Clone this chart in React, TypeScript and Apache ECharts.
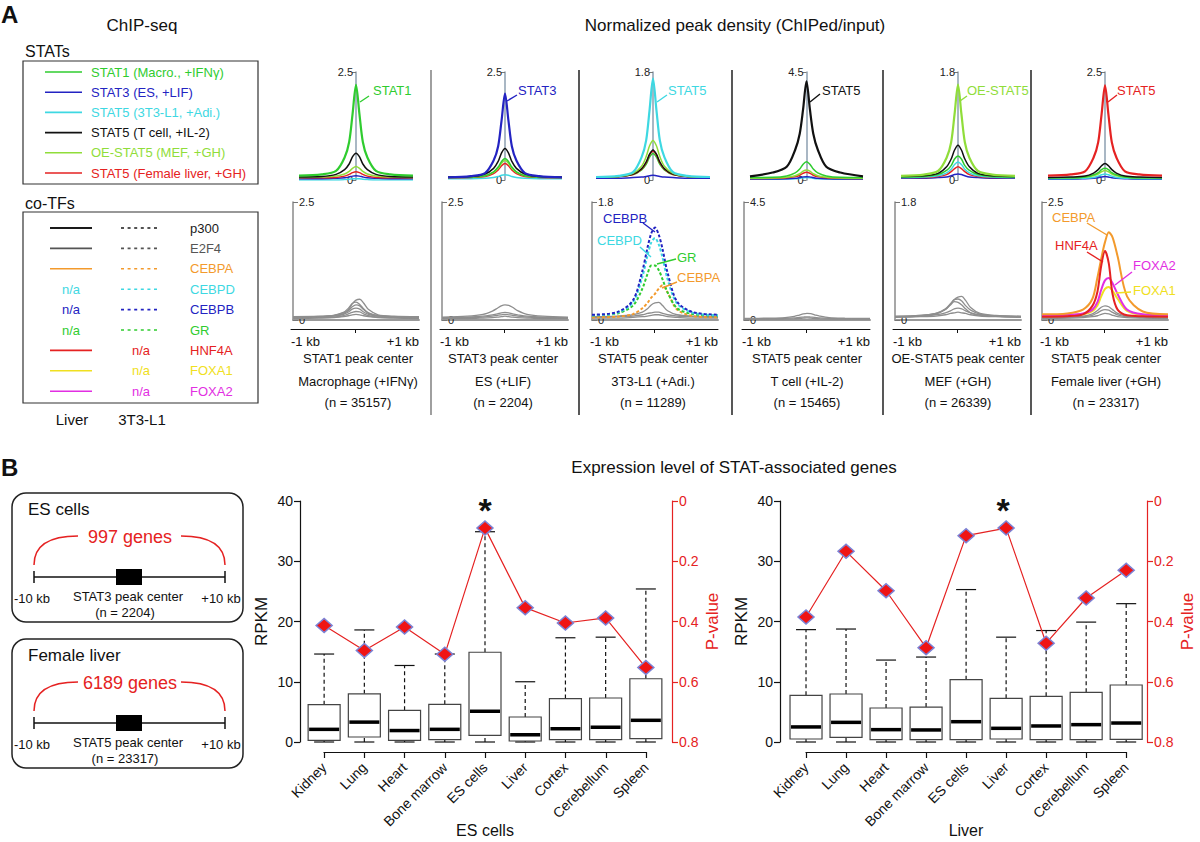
import React, { useEffect, useRef } from "react";
import * as echarts from "echarts";

const FONT = "'Liberation Sans', Arial, Helvetica, sans-serif";

// ---------- Panel A : peak density profiles (x in kb) ----------
const X_KB = [-1, -0.6, -0.35, -0.2, -0.12, -0.06, 0, 0.06, 0.12, 0.2, 0.35, 0.6, 1];
const TOP_MAX = [2.5, 2.5, 1.8, 4.5, 1.8, 2.5];
const BOT_MAX = [2.5, 2.5, 1.8, 4.5, 1.8, 2.5];

// panel 1 : STAT1 peak center, macrophage
const p1Stat1 = [0.1, 0.13, 0.21, 0.52, 0.88, 1.53, 2.2, 1.53, 0.88, 0.52, 0.21, 0.13, 0.1];
const p1Stat5T = [0.07, 0.08, 0.13, 0.24, 0.37, 0.54, 0.62, 0.54, 0.37, 0.24, 0.13, 0.08, 0.07];
const p1OeStat5 = [0.06, 0.07, 0.09, 0.14, 0.2, 0.27, 0.31, 0.27, 0.2, 0.14, 0.09, 0.07, 0.06];
const p1Stat5L = [0.05, 0.05, 0.06, 0.09, 0.13, 0.17, 0.19, 0.17, 0.13, 0.09, 0.06, 0.05, 0.05];
const p1Stat3 = [0.03, 0.03, 0.04, 0.05, 0.07, 0.09, 0.1, 0.09, 0.07, 0.05, 0.04, 0.03, 0.03];
const p1Stat5A = [0, 0, 0, 0.01, 0.02, 0.03, 0.03, 0.03, 0.02, 0.01, 0, 0, 0];
// panel 2 : STAT3 peak center, ES
const p2Stat3 = [0.06, 0.09, 0.16, 0.45, 0.78, 1.38, 2.0, 1.38, 0.78, 0.45, 0.16, 0.09, 0.06];
const p2Stat5T = [0.07, 0.08, 0.14, 0.27, 0.43, 0.63, 0.73, 0.63, 0.43, 0.27, 0.14, 0.08, 0.07];
const p2Stat1 = [0.06, 0.07, 0.1, 0.19, 0.3, 0.43, 0.5, 0.43, 0.3, 0.19, 0.1, 0.07, 0.06];
const p2OeStat5 = [0.06, 0.07, 0.1, 0.18, 0.27, 0.39, 0.45, 0.39, 0.27, 0.18, 0.1, 0.07, 0.06];
const p2Stat5L = [0.05, 0.06, 0.08, 0.15, 0.23, 0.33, 0.38, 0.33, 0.23, 0.15, 0.08, 0.06, 0.05];
const p2Stat5A = [0.03, 0.03, 0.04, 0.06, 0.08, 0.11, 0.12, 0.11, 0.08, 0.06, 0.04, 0.03, 0.03];
// panel 3 : STAT5 peak center, 3T3-L1
const p3Stat5A = [0.05, 0.07, 0.13, 0.38, 0.66, 1.17, 1.69, 1.17, 0.66, 0.38, 0.13, 0.07, 0.05];
const p3OeStat5 = [0.05, 0.06, 0.11, 0.23, 0.39, 0.57, 0.66, 0.57, 0.39, 0.23, 0.11, 0.06, 0.05];
const p3Stat5T = [0.05, 0.06, 0.1, 0.19, 0.3, 0.43, 0.5, 0.43, 0.3, 0.19, 0.1, 0.06, 0.05];
const p3Stat5L = [0.05, 0.06, 0.09, 0.18, 0.29, 0.42, 0.48, 0.42, 0.29, 0.18, 0.09, 0.06, 0.05];
const p3Stat1 = [0.05, 0.06, 0.09, 0.17, 0.26, 0.38, 0.44, 0.38, 0.26, 0.17, 0.09, 0.06, 0.05];
const p3Stat3 = [0.03, 0.03, 0.04, 0.05, 0.06, 0.07, 0.08, 0.07, 0.06, 0.05, 0.04, 0.03, 0.03];
// panel 4 : STAT5 peak center, T cell
const p4Stat5T = [0.15, 0.31, 0.55, 1.26, 1.93, 2.95, 4.11, 2.95, 1.93, 1.26, 0.55, 0.31, 0.15];
const p4Stat1 = [0.1, 0.11, 0.17, 0.3, 0.46, 0.66, 0.76, 0.66, 0.46, 0.3, 0.17, 0.11, 0.1];
const p4OeStat5 = [0.07, 0.08, 0.11, 0.18, 0.26, 0.37, 0.42, 0.37, 0.26, 0.18, 0.11, 0.08, 0.07];
const p4Stat5L = [0.06, 0.07, 0.09, 0.14, 0.2, 0.28, 0.32, 0.28, 0.2, 0.14, 0.09, 0.07, 0.06];
const p4Stat3 = [0.04, 0.04, 0.05, 0.07, 0.1, 0.13, 0.14, 0.13, 0.1, 0.07, 0.05, 0.04, 0.04];
const p4Stat5A = [0.03, 0.03, 0.04, 0.05, 0.07, 0.09, 0.1, 0.09, 0.07, 0.05, 0.04, 0.03, 0.03];
// panel 5 : OE-STAT5 peak center, MEF
const p5OeStat5 = [0.07, 0.09, 0.15, 0.37, 0.63, 1.1, 1.59, 1.1, 0.63, 0.37, 0.15, 0.09, 0.07];
const p5Stat5T = [0.06, 0.07, 0.11, 0.22, 0.35, 0.5, 0.58, 0.5, 0.35, 0.22, 0.11, 0.07, 0.06];
const p5Stat1 = [0.05, 0.06, 0.09, 0.16, 0.24, 0.35, 0.4, 0.35, 0.24, 0.16, 0.09, 0.06, 0.05];
const p5Stat5A = [0.04, 0.05, 0.07, 0.12, 0.18, 0.26, 0.3, 0.26, 0.18, 0.12, 0.07, 0.05, 0.04];
const p5Stat5L = [0.04, 0.04, 0.06, 0.09, 0.14, 0.19, 0.22, 0.19, 0.14, 0.09, 0.06, 0.04, 0.04];
const p5Stat3 = [0.03, 0.03, 0.04, 0.05, 0.07, 0.09, 0.1, 0.09, 0.07, 0.05, 0.04, 0.03, 0.03];
// panel 6 : STAT5 peak center, female liver
const p6Stat5L = [0.1, 0.13, 0.2, 0.52, 0.87, 1.52, 2.19, 1.52, 0.87, 0.52, 0.2, 0.13, 0.1];
const p6Stat5T = [0.06, 0.07, 0.09, 0.16, 0.24, 0.33, 0.38, 0.33, 0.24, 0.16, 0.09, 0.07, 0.06];
const p6Stat1 = [0.05, 0.05, 0.07, 0.12, 0.17, 0.24, 0.27, 0.24, 0.17, 0.12, 0.07, 0.05, 0.05];
const p6OeStat5 = [0.05, 0.05, 0.07, 0.1, 0.14, 0.19, 0.22, 0.19, 0.14, 0.1, 0.07, 0.05, 0.05];
const p6Stat5A = [0.03, 0.03, 0.04, 0.06, 0.09, 0.12, 0.14, 0.12, 0.09, 0.06, 0.04, 0.03, 0.03];
const p6Stat3 = [0.02, 0.02, 0.03, 0.04, 0.05, 0.07, 0.08, 0.07, 0.05, 0.04, 0.03, 0.02, 0.02];

// co-TF profiles (bottom row)
const b1g1 = [0.07, 0.08, 0.1, 0.15, 0.22, 0.34, 0.42, 0.44, 0.36, 0.22, 0.11, 0.08, 0.07];
const b1g2 = [0.06, 0.07, 0.1, 0.16, 0.25, 0.35, 0.38, 0.33, 0.24, 0.15, 0.09, 0.07, 0.06];
const b1g3 = [0.06, 0.07, 0.09, 0.13, 0.2, 0.28, 0.32, 0.3, 0.22, 0.14, 0.09, 0.07, 0.06];
const b1g4 = [0.05, 0.06, 0.08, 0.12, 0.17, 0.23, 0.25, 0.23, 0.17, 0.12, 0.08, 0.06, 0.05];
const b1g5 = [0.04, 0.05, 0.06, 0.09, 0.13, 0.16, 0.18, 0.17, 0.13, 0.09, 0.06, 0.05, 0.04];
const b1g6 = [0.03, 0.04, 0.05, 0.07, 0.09, 0.11, 0.12, 0.11, 0.09, 0.07, 0.05, 0.04, 0.03];
const b2g1 = [0.06, 0.08, 0.12, 0.19, 0.25, 0.3, 0.32, 0.31, 0.27, 0.2, 0.12, 0.08, 0.06];
const b2g2 = [0.05, 0.06, 0.08, 0.11, 0.13, 0.15, 0.16, 0.15, 0.13, 0.11, 0.08, 0.06, 0.05];
const b2g3 = [0.04, 0.05, 0.06, 0.08, 0.1, 0.11, 0.12, 0.11, 0.1, 0.08, 0.06, 0.05, 0.04];
const b2g4 = [0.03, 0.03, 0.04, 0.05, 0.06, 0.07, 0.08, 0.07, 0.06, 0.05, 0.04, 0.03, 0.03];
const b3Cebpb = [0.08, 0.12, 0.3, 0.75, 1.1, 1.32, 1.41, 1.3, 1.08, 0.72, 0.28, 0.12, 0.08];
const b3Cebpd = [0.07, 0.11, 0.27, 0.66, 0.98, 1.18, 1.25, 1.15, 0.95, 0.62, 0.25, 0.11, 0.07];
const b3Gr = [0.07, 0.1, 0.22, 0.48, 0.7, 0.83, 0.83, 0.76, 0.62, 0.42, 0.18, 0.09, 0.07];
const b3Cebpa = [0.04, 0.05, 0.09, 0.18, 0.26, 0.34, 0.4, 0.48, 0.53, 0.42, 0.16, 0.06, 0.04];
const b3g1 = [0.05, 0.06, 0.08, 0.12, 0.17, 0.23, 0.26, 0.27, 0.22, 0.14, 0.08, 0.06, 0.05];
const b3g2 = [0.04, 0.05, 0.06, 0.08, 0.1, 0.11, 0.12, 0.12, 0.1, 0.08, 0.06, 0.05, 0.04];
const b3g3 = [0.03, 0.03, 0.04, 0.05, 0.06, 0.07, 0.08, 0.08, 0.07, 0.05, 0.04, 0.03, 0.03];
const b4g1 = [0.06, 0.07, 0.09, 0.14, 0.19, 0.23, 0.25, 0.24, 0.2, 0.15, 0.09, 0.07, 0.06];
const b4g2 = [0.04, 0.05, 0.06, 0.08, 0.1, 0.11, 0.12, 0.11, 0.1, 0.08, 0.06, 0.05, 0.04];
const b4g3 = [0.03, 0.03, 0.04, 0.05, 0.06, 0.07, 0.08, 0.07, 0.06, 0.05, 0.04, 0.03, 0.03];
const b5g1 = [0.06, 0.07, 0.1, 0.16, 0.24, 0.31, 0.35, 0.36, 0.3, 0.19, 0.1, 0.07, 0.06];
const b5g2 = [0.05, 0.07, 0.1, 0.17, 0.25, 0.31, 0.32, 0.29, 0.22, 0.15, 0.09, 0.06, 0.05];
const b5g3 = [0.05, 0.06, 0.09, 0.16, 0.23, 0.28, 0.27, 0.23, 0.17, 0.11, 0.07, 0.06, 0.05];
const b5g4 = [0.05, 0.06, 0.08, 0.11, 0.14, 0.17, 0.18, 0.17, 0.14, 0.11, 0.08, 0.06, 0.05];
const b5g5 = [0.04, 0.05, 0.06, 0.08, 0.1, 0.11, 0.12, 0.11, 0.1, 0.08, 0.06, 0.05, 0.04];
const b6Cebpa = [0.12, 0.14, 0.22, 0.45, 0.9, 1.3, 1.65, 1.86, 1.75, 1.35, 0.5, 0.18, 0.12];
const b6Hnf4a = [0.07, 0.08, 0.12, 0.3, 0.6, 1.15, 1.46, 1.2, 0.55, 0.22, 0.1, 0.08, 0.07];
const b6Foxa2 = [0.1, 0.11, 0.14, 0.22, 0.38, 0.64, 0.84, 0.89, 0.78, 0.55, 0.22, 0.12, 0.1];
const b6Foxa1 = [0.08, 0.09, 0.12, 0.19, 0.31, 0.5, 0.66, 0.7, 0.62, 0.45, 0.19, 0.1, 0.08];
const b6g1 = [0.05, 0.06, 0.08, 0.13, 0.2, 0.27, 0.3, 0.28, 0.22, 0.14, 0.08, 0.06, 0.05];
const b6g2 = [0.04, 0.05, 0.07, 0.1, 0.15, 0.2, 0.22, 0.21, 0.16, 0.11, 0.07, 0.05, 0.04];
const b6g3 = [0.03, 0.04, 0.05, 0.07, 0.09, 0.12, 0.14, 0.13, 0.1, 0.07, 0.05, 0.04, 0.03];

// ---------- Panel B : expression ----------
const TISSUES = ["Kidney", "Lung", "Heart", "Bone marrow", "ES cells", "Liver", "Cortex", "Cerebellum", "Spleen"];
const ES_MIN = [0, 0, 0, 0, 0, 0, 0, 0, 0];
const ES_Q1 = [0.28, 0.83, 0.28, 0.4, 1.1, 0.17, 0.4, 0.4, 0.55];
const ES_MED = [2.1, 3.3, 1.9, 2.1, 5.1, 1.2, 2.2, 2.45, 3.6];
const ES_Q3 = [6.2, 8.0, 5.25, 6.25, 14.9, 4.15, 7.2, 7.3, 10.5];
const ES_MAX = [14.6, 18.6, 12.7, 14.6, 34.9, 10.0, 17.3, 17.4, 25.4];
const ES_P = [0.413, 0.496, 0.418, 0.509, 0.09, 0.354, 0.405, 0.388, 0.553];
const LV_MIN = [0, 0, 0, 0, 0, 0, 0, 0, 0];
const LV_Q1 = [0.5, 0.77, 0.39, 0.39, 0.39, 0.5, 0.39, 0.39, 0.44];
const LV_MED = [2.5, 3.26, 2.05, 2.0, 3.37, 2.27, 2.66, 2.88, 3.15];
const LV_Q3 = [7.75, 7.97, 5.64, 5.8, 10.35, 7.25, 7.58, 8.24, 9.46];
const LV_MAX = [18.65, 18.75, 13.6, 14.1, 25.3, 17.4, 18.5, 19.9, 22.96];
const LV_P = [0.385, 0.167, 0.298, 0.487, 0.115, 0.09, 0.472, 0.322, 0.23];

// ---------- styles / layout ----------
const COL: any = {
  stat1: "#2fcc2f", stat3: "#2323c2", stat5A: "#3ed8e2", stat5T: "#111111", oe: "#90dd3a", stat5L: "#e52222",
  orange: "#f39a2c", gray: "#8e8e8e", yellow: "#f0e020", magenta: "#e22ee2", e2f4: "#555555",
};
const TOP_LEFT = [299, 448, 596, 750, 901, 1048];
const TOP_WIDTH = [114, 114, 114, 113, 114, 114];
const BOT_LEFT = [293, 442, 592, 744, 895, 1042];
const PANEL_CENTER = [358, 503, 653, 807, 958, 1106];

const TOP_CURVES: any[] = [
  [["stat5A", p1Stat5A], ["stat3", p1Stat3], ["stat5L", p1Stat5L], ["oe", p1OeStat5], ["stat5T", p1Stat5T], ["stat1", p1Stat1, 1]],
  [["stat5A", p2Stat5A], ["stat5L", p2Stat5L], ["oe", p2OeStat5], ["stat1", p2Stat1], ["stat5T", p2Stat5T], ["stat3", p2Stat3, 1]],
  [["stat3", p3Stat3], ["stat1", p3Stat1], ["stat5L", p3Stat5L], ["stat5T", p3Stat5T], ["oe", p3OeStat5], ["stat5A", p3Stat5A, 1]],
  [["stat5A", p4Stat5A], ["stat3", p4Stat3], ["stat5L", p4Stat5L], ["oe", p4OeStat5], ["stat1", p4Stat1], ["stat5T", p4Stat5T, 1]],
  [["stat3", p5Stat3], ["stat5L", p5Stat5L], ["stat5A", p5Stat5A], ["stat1", p5Stat1], ["stat5T", p5Stat5T], ["oe", p5OeStat5, 1]],
  [["stat3", p6Stat3], ["stat5A", p6Stat5A], ["oe", p6OeStat5], ["stat1", p6Stat1], ["stat5T", p6Stat5T], ["stat5L", p6Stat5L, 1]],
];
const BOT_CURVES: any[] = [
  [["gray", b1g6], ["gray", b1g5], ["gray", b1g4], ["gray", b1g3], ["gray", b1g2], ["gray", b1g1]],
  [["gray", b2g4], ["gray", b2g3], ["gray", b2g2], ["gray", b2g1]],
  [["gray", b3g3], ["gray", b3g2], ["gray", b3g1], ["orange", b3Cebpa, 1], ["stat1", b3Gr, 1], ["stat5A", b3Cebpd, 1], ["stat3", b3Cebpb, 1]],
  [["gray", b4g3], ["gray", b4g2], ["gray", b4g1]],
  [["gray", b5g5], ["gray", b5g4], ["gray", b5g3], ["gray", b5g2], ["gray", b5g1]],
  [["gray", b6g3], ["gray", b6g2], ["gray", b6g1], ["yellow", b6Foxa1], ["magenta", b6Foxa2], ["orange", b6Cebpa], ["stat5L", b6Hnf4a]],
];
const PANEL_CAPTIONS = [
  ["STAT1 peak center", "Macrophage (+IFNγ)", "(n = 35157)"],
  ["STAT3 peak center", "ES (+LIF)", "(n = 2204)"],
  ["STAT5 peak center", "3T3-L1 (+Adi.)", "(n = 11289)"],
  ["STAT5 peak center", "T cell (+IL-2)", "(n = 15465)"],
  ["OE-STAT5 peak center", "MEF (+GH)", "(n = 26339)"],
  ["STAT5 peak center", "Female liver (+GH)", "(n = 23317)"],
];
const CURVE_LABELS: any[] = [
  ["STAT1", "stat1", 373, 90, [369, 96, 360, 102]],
  ["STAT3", "stat3", 518, 90, [517, 95, 507, 101]],
  ["STAT5", "stat5A", 668, 90, [667, 95, 657, 102]],
  ["STAT5", "stat5T", 822, 90, [820, 94, 810, 102]],
  ["OE-STAT5", "oe", 967, 90, [967, 96, 960, 101]],
  ["STAT5", "stat5L", 1117, 90, [1117, 95, 1108, 102]],
  ["CEBPB", "stat3", 603, 218, [643, 223, 655, 232]],
  ["CEBPD", "stat5A", 597, 240, [640, 247, 651, 257]],
  ["GR", "stat1", 677, 257, [676, 259, 657, 264]],
  ["CEBPA", "orange", 677, 277, [677, 282, 662, 288]],
  ["CEBPA", "orange", 1052, 217, [1087, 223, 1107, 235]],
  ["HNF4A", "stat5L", 1055, 245, [1087, 252, 1103, 262]],
  ["FOXA2", "magenta", 1133, 265, [1132, 272, 1115, 285]],
  ["FOXA1", "yellow", 1133, 290, [1131, 292, 1116, 293]],
];
const STAT_LEGEND: any[] = [
  ["STAT1 (Macro., +IFNγ)", "stat1"],
  ["STAT3 (ES, +LIF)", "stat3"],
  ["STAT5 (3T3-L1, +Adi.)", "stat5A"],
  ["STAT5 (T cell, +IL-2)", "stat5T"],
  ["OE-STAT5 (MEF, +GH)", "oe"],
  ["STAT5 (Female liver, +GH)", "stat5L"],
];
const COTF_LEGEND: any[] = [
  ["p300", "#1a1a1a", "line", "dots"],
  ["E2F4", "e2f4", "line", "dots"],
  ["CEBPA", "orange", "line", "dots"],
  ["CEBPD", "stat5A", "na", "dots"],
  ["CEBPB", "stat3", "na", "dots"],
  ["GR", "stat1", "na", "dots"],
  ["HNF4A", "stat5L", "line", "na"],
  ["FOXA1", "yellow", "line", "na"],
  ["FOXA2", "magenta", "line", "na"],
];

const col = (k: string) => COL[k] || k;

const T = (x: number, y: number, text: string, o: any = {}) => ({
  type: "text", x, y, silent: true, z: 20,
  style: {
    text, fill: o.color || "#111", fontSize: o.size || 13, fontFamily: FONT,
    fontWeight: o.bold ? "bold" : "normal",
    align: o.align || "left", textAlign: o.align || "left",
    verticalAlign: "middle", textVerticalAlign: "middle",
  },
});
const L = (x1: number, y1: number, x2: number, y2: number, color: string, w = 1, dash?: number[]) => ({
  type: "line", silent: true, z: 20, shape: { x1, y1, x2, y2 },
  style: { stroke: color, lineWidth: w, lineDash: dash },
});

function buildOption() {
  const grid: any[] = [], xAxis: any[] = [], yAxis: any[] = [], series: any[] = [], graphic: any[] = [];
  const toPts = (arr: number[]) => X_KB.map((x, j) => [x, arr[j]]);
  const hidden = { axisLine: { show: false }, axisTick: { show: false }, axisLabel: { show: false }, splitLine: { show: false } };

  for (let i = 0; i < 6; i++) {
    // top: STAT profiles, y axis drawn through the peak center
    const tg = grid.push({ left: TOP_LEFT[i], top: 72, width: TOP_WIDTH[i], height: 108 }) - 1;
    const tx = xAxis.push({ gridIndex: tg, type: "value", min: -1, max: 1, ...hidden }) - 1;
    const tmax = TOP_MAX[i];
    const ty = yAxis.push({
      gridIndex: tg, type: "value", position: "left", offset: -TOP_WIDTH[i] / 2, min: 0, max: tmax, interval: tmax,
      axisLine: { show: true, onZero: false, lineStyle: { color: "#8d9fb0", width: 1.5 } },
      axisTick: { show: true, length: 4, lineStyle: { color: "#777" } },
      axisLabel: { fontSize: 11, color: "#222", margin: 3, fontFamily: FONT, formatter: (v: number) => (v === 0 ? "0" : String(tmax)) },
      splitLine: { show: false },
    }) - 1;
    TOP_CURVES[i].forEach((c: any) => series.push({
      type: "line", xAxisIndex: tx, yAxisIndex: ty, data: toPts(c[1]), symbol: "none", smooth: 0.3, silent: true,
      z: c[2] ? 4 : 3, lineStyle: { color: col(c[0]), width: c[2] ? 2.2 : 1.5 },
    }));

    // bottom: co-TF profiles
    const bg = grid.push({ left: BOT_LEFT[i], top: 202, width: 126, height: 118 }) - 1;
    const bx = xAxis.push({
      gridIndex: bg, type: "value", min: -1, max: 1,
      axisLine: { show: true, lineStyle: { color: "#9a9a9a", width: 2 } },
      axisTick: { show: false }, axisLabel: { show: false }, splitLine: { show: false },
    }) - 1;
    const bmax = BOT_MAX[i];
    const by = yAxis.push({
      gridIndex: bg, type: "value", min: 0, max: bmax, interval: bmax,
      axisLine: { show: true, onZero: false, lineStyle: { color: "#8a8a8a", width: 1.5 } },
      axisTick: { show: true, inside: true, length: 5, lineStyle: { color: "#777" } },
      axisLabel: { inside: true, fontSize: 11, color: "#222", margin: 6, fontFamily: FONT, formatter: (v: number) => (v === 0 ? "0" : String(bmax)) },
      splitLine: { show: false },
    }) - 1;
    BOT_CURVES[i].forEach((c: any) => series.push({
      type: "line", xAxisIndex: bx, yAxisIndex: by, data: toPts(c[1]), symbol: "none", smooth: 0.3, silent: true,
      z: c[0] === "gray" ? 3 : 4,
      lineStyle: { color: col(c[0]), width: c[0] === "gray" ? 1.3 : 2, type: c[2] ? [3, 2] : "solid" },
    }));

    // kb axis
    const kg = grid.push({ left: BOT_LEFT[i] - 2, top: 319, width: 128, height: 10 }) - 1;
    xAxis.push({
      gridIndex: kg, type: "value", min: -1, max: 1, interval: 1,
      axisLine: { show: true, lineStyle: { color: "#111", width: 1 } },
      axisTick: { show: true, customValues: [0], length: 4, lineStyle: { color: "#111" } },
      axisLabel: {
        customValues: [-1, 1], fontSize: 13, color: "#111", margin: 6, fontFamily: FONT,
        alignMinLabel: "left", alignMaxLabel: "right",
        formatter: (v: number) => (v < 0 ? "-1 kb" : "+1 kb"),
      },
      splitLine: { show: false },
    });
    yAxis.push({ gridIndex: kg, type: "value", min: 0, max: 1, show: false });

    const cx = PANEL_CENTER[i];
    graphic.push(T(cx, 358, PANEL_CAPTIONS[i][0], { align: "center" }));
    graphic.push(T(cx, 381, PANEL_CAPTIONS[i][1], { align: "center" }));
    graphic.push(T(cx, 402, PANEL_CAPTIONS[i][2], { align: "center" }));
  }

  // ---- Panel B box plots ----
  const BOX_LEFT = [300, 780], BOX_WIDTH = [372, 367], BOX_XMIN = [-0.6, -0.65], BOX_XMAX = [8.65, 8.52];
  const CAT_LEFT = [324, 806], CAT_WIDTH = [322, 320];
  const sets = [
    { mn: ES_MIN, q1: ES_Q1, md: ES_MED, q3: ES_Q3, mx: ES_MAX, p: ES_P, name: "ES cells" },
    { mn: LV_MIN, q1: LV_Q1, md: LV_MED, q3: LV_Q3, mx: LV_MAX, p: LV_P, name: "Liver" },
  ];
  sets.forEach((s, j) => {
    const g = grid.push({ left: BOX_LEFT[j], top: 501, width: BOX_WIDTH[j], height: 241 }) - 1;
    const xi = xAxis.push({ gridIndex: g, type: "value", min: BOX_XMIN[j], max: BOX_XMAX[j], ...hidden }) - 1;
    const yl = yAxis.push({
      gridIndex: g, type: "value", position: "left", min: 0, max: 40, interval: 10,
      axisLine: { show: true, onZero: false, lineStyle: { color: "#111", width: 1.2 } },
      axisTick: { show: true, length: 6, lineStyle: { color: "#111", width: 1.2 } },
      axisLabel: { fontSize: 14, color: "#111", margin: 7, fontFamily: FONT },
      splitLine: { show: false },
      name: "RPKM", nameLocation: "middle", nameRotate: 90, nameGap: 30,
      nameTextStyle: { fontSize: 17, color: "#111", fontFamily: FONT },
    }) - 1;
    const yr = yAxis.push({
      gridIndex: g, type: "value", position: "right", min: 0, max: 0.8, interval: 0.2, inverse: true,
      axisLine: { show: true, onZero: false, lineStyle: { color: "#e52222", width: 1.2 } },
      axisTick: { show: true, length: 6, lineStyle: { color: "#e52222", width: 1.2 } },
      axisLabel: { fontSize: 14, color: "#e52222", margin: 7, fontFamily: FONT, formatter: (v: number) => (v === 0 ? "0" : v.toFixed(1)) },
      splitLine: { show: false },
      name: "P-value", nameLocation: "middle", nameRotate: 90, nameGap: 32,
      nameTextStyle: { fontSize: 17, color: "#e52222", fontFamily: FONT },
    }) - 1;
    series.push({
      type: "custom", xAxisIndex: xi, yAxisIndex: yl, silent: true, z: 3,
      encode: { x: 0, y: [1, 2, 3, 4, 5] },
      data: TISSUES.map((_, k) => [k, s.mn[k], s.q1[k], s.md[k], s.q3[k], s.mx[k]]),
      renderItem: (params: any, api: any) => {
        const x = api.value(0);
        const pMin = api.coord([x, api.value(1)]);
        const pQ1 = api.coord([x, api.value(2)]);
        const pMd = api.coord([x, api.value(3)]);
        const pQ3 = api.coord([x, api.value(4)]);
        const pMax = api.coord([x, api.value(5)]);
        const c = pMin[0], hw = 16, cw = 10;
        const dash = { stroke: "#111", lineWidth: 1.2, lineDash: [4, 3] };
        const solid = { stroke: "#111", lineWidth: 1.2 };
        return {
          type: "group",
          children: [
            { type: "line", shape: { x1: c, y1: pQ3[1], x2: c, y2: pMax[1] }, style: dash },
            { type: "line", shape: { x1: c, y1: pMin[1], x2: c, y2: pQ1[1] }, style: dash },
            { type: "line", shape: { x1: c - cw, y1: pMax[1], x2: c + cw, y2: pMax[1] }, style: solid },
            { type: "line", shape: { x1: c - cw, y1: pMin[1], x2: c + cw, y2: pMin[1] }, style: solid },
            { type: "rect", shape: { x: c - hw, y: pQ3[1], width: 2 * hw, height: pQ1[1] - pQ3[1] }, style: { fill: "#fff", stroke: "#444", lineWidth: 1.2 } },
            { type: "line", shape: { x1: c - hw + 1, y1: pMd[1], x2: c + hw - 1, y2: pMd[1] }, style: { stroke: "#000", lineWidth: 3.5 } },
          ],
        };
      },
    });
    series.push({
      type: "line", xAxisIndex: xi, yAxisIndex: yr, silent: true, z: 6,
      data: TISSUES.map((_, k) => [k, s.p[k]]),
      symbol: "diamond", symbolSize: [16, 14],
      lineStyle: { color: "#e52222", width: 1.2 },
      itemStyle: { color: "#f01414", borderColor: "#7c83d6", borderWidth: 1.5 },
    });
    // category axis
    const cg = grid.push({ left: CAT_LEFT[j], top: 742, width: CAT_WIDTH[j], height: 10 }) - 1;
    xAxis.push({
      gridIndex: cg, type: "category", data: TISSUES, boundaryGap: false,
      axisLine: { show: true, lineStyle: { color: "#111", width: 1.2 } },
      axisTick: { show: true, length: 6, lineStyle: { color: "#111", width: 1.2 } },
      axisLabel: { rotate: 45, interval: 0, fontSize: 14, color: "#111", margin: 13, fontFamily: FONT },
      name: s.name, nameLocation: "middle", nameGap: 70, nameMoveOverlap: false,
      nameTextStyle: { fontSize: 16, color: "#111", fontFamily: FONT },
    });
    yAxis.push({ gridIndex: cg, type: "value", min: 0, max: 1, show: false });
  });

  // ---- static annotations ----
  graphic.push(T(1, 14, "A", { size: 24, bold: true }));
  graphic.push(T(142, 25, "ChIP-seq", { size: 17, align: "center" }));
  graphic.push(T(735, 25, "Normalized peak density (ChIPed/input)", { size: 17, align: "center" }));
  graphic.push(T(25, 51, "STATs", { size: 16 }));
  graphic.push({ type: "rect", silent: true, z: 20, shape: { x: 23, y: 61, width: 235, height: 123 }, style: { fill: "none", stroke: "#333", lineWidth: 1.2 } });
  STAT_LEGEND.forEach((r, k) => {
    const y = 72 + k * 20.2;
    graphic.push(L(45, y, 82, y, col(r[1]), 1.6));
    graphic.push(T(91, y, r[0], { color: col(r[1]) }));
  });
  graphic.push(T(25, 203, "co-TFs", { size: 16 }));
  graphic.push({ type: "rect", silent: true, z: 20, shape: { x: 23, y: 212, width: 235, height: 191 }, style: { fill: "none", stroke: "#333", lineWidth: 1.2 } });
  COTF_LEGEND.forEach((r, k) => {
    const y = 228 + k * 20.4;
    const c = col(r[1]);
    if (r[2] === "line") graphic.push(L(50, y, 92, y, c, k === 0 ? 2 : 1.6));
    else graphic.push(T(71, y, "n/a", { color: c, align: "center" }));
    if (r[3] === "dots") graphic.push(L(121, y, 160, y, c, 1.6, [3, 3.6]));
    else graphic.push(T(141, y, "n/a", { color: c, align: "center" }));
    graphic.push(T(190, y, r[0], { color: c }));
  });
  graphic.push(T(72, 419, "Liver", { size: 15, align: "center" }));
  graphic.push(T(142, 419, "3T3-L1", { size: 15, align: "center" }));

  [431, 579, 732, 883, 1031].forEach((x, k) => graphic.push(L(x, 70, x, 415, k === 0 ? "#777" : "#111", 1.4)));

  CURVE_LABELS.forEach((r) => {
    graphic.push(T(r[2], r[3], r[0], { color: col(r[1]) }));
    graphic.push(L(r[4][0], r[4][1], r[4][2], r[4][3], col(r[1]), 1.4));
  });

  graphic.push(T(1, 467, "B", { size: 24, bold: true }));
  graphic.push(T(734, 467, "Expression level of STAT-associated genes", { size: 17, align: "center" }));

  const schem = (dy: number, title: string, genes: string, peak: string, n: string) => {
    graphic.push({ type: "rect", silent: true, z: 20, shape: { x: 12, y: 493 + dy, width: 231, height: 129, r: 14 }, style: { fill: "none", stroke: "#222", lineWidth: 1.5 } });
    graphic.push(T(28, 509 + dy, title, { size: 17 }));
    graphic.push(T(130, 537 + dy, genes, { size: 18, align: "center", color: "#e52222" }));
    graphic.push({ type: "bezierCurve", silent: true, z: 20, shape: { x1: 34, y1: 565 + dy, cpx1: 34, cpy1: 545 + dy, cpx2: 50, cpy2: 536 + dy, x2: 78, y2: 536 + dy }, style: { stroke: "#e52222", lineWidth: 1.5, fill: "none" } });
    graphic.push({ type: "bezierCurve", silent: true, z: 20, shape: { x1: 181, y1: 536 + dy, cpx1: 209, cpy1: 536 + dy, cpx2: 225, cpy2: 545 + dy, x2: 225, y2: 565 + dy }, style: { stroke: "#e52222", lineWidth: 1.5, fill: "none" } });
    graphic.push(L(34, 577 + dy, 225, 577 + dy, "#111", 1.5));
    graphic.push(L(34, 571 + dy, 34, 583 + dy, "#111", 1.5));
    graphic.push(L(225, 571 + dy, 225, 583 + dy, "#111", 1.5));
    graphic.push({ type: "rect", silent: true, z: 21, shape: { x: 116, y: 569 + dy, width: 26, height: 16 }, style: { fill: "#000" } });
    graphic.push(T(32, 598 + dy, "-10 kb", { align: "center" }));
    graphic.push(T(221, 598 + dy, "+10 kb", { align: "center" }));
    graphic.push(T(128, 596 + dy, peak, { align: "center" }));
    graphic.push(T(125, 612 + dy, n, { align: "center" }));
  };
  schem(0, "ES cells", "997 genes", "STAT3 peak center", "(n = 2204)");
  schem(146, "Female liver", "6189 genes", "STAT5 peak center", "(n = 23317)");

  graphic.push(T(485, 510, "*", { size: 34, bold: true, align: "center" }));
  graphic.push(T(1003, 510, "*", { size: 34, bold: true, align: "center" }));

  return {
    animation: false,
    backgroundColor: "#ffffff",
    textStyle: { fontFamily: FONT },
    grid, xAxis, yAxis, series, graphic,
  };
}

export default function App() {
  const ref = useRef<HTMLDivElement>(null);
  useEffect(() => {
    const chart = echarts.init(ref.current as HTMLDivElement, null, { renderer: "svg" });
    chart.setOption(buildOption() as any);
    return () => chart.dispose();
  }, []);
  return <div ref={ref} style={{ position: "absolute", left: 0, top: 0, width: 1200, height: 842, background: "#fff" }} />;
}
